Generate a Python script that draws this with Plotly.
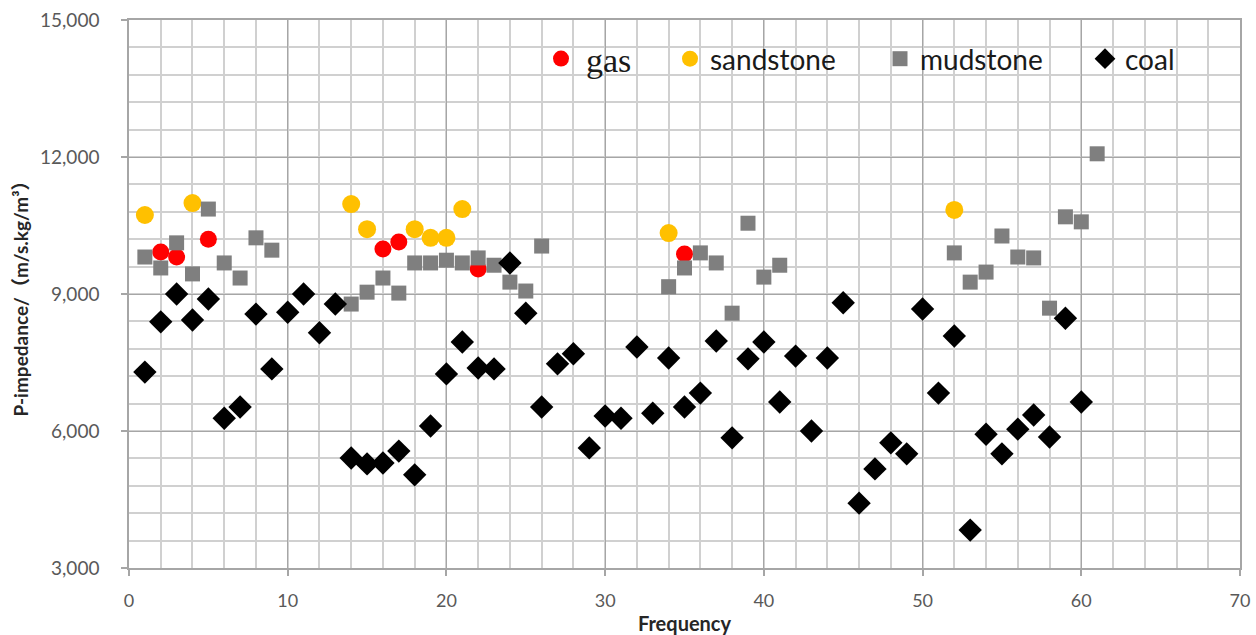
import plotly.graph_objects as go

# ---------------- data ----------------
gas_x = [2, 3, 5, 16, 17, 22, 35]
gas_y = [9920, 9810, 10200, 9985, 10140, 9550, 9875]

sand_x = [1, 4, 14, 15, 18, 19, 20, 21, 34, 52]
sand_y = [10730, 10990, 10970, 10420, 10420, 10230, 10230, 10860, 10335, 10840]

mud_x = [1, 2, 3, 4, 5, 6, 7, 8, 9,
         14, 15, 16, 17, 18, 19, 20, 21, 22, 23, 24, 25, 26,
         34, 35, 36, 37, 38, 39, 40, 41,
         52, 53, 54, 55, 56, 57, 58, 59, 60, 61]
mud_y = [9810, 9570, 10120, 9440, 10860, 9680, 9350, 10230, 9960,
         8780, 9040, 9350, 9020, 9680, 9680, 9740, 9680, 9790, 9630, 9260, 9065, 10050,
         9160, 9570, 9900, 9680, 8580, 10550, 9370, 9630,
         9900, 9260, 9480, 10270, 9810, 9790, 8690, 10690, 10580, 12070]

coal_x = list(range(1, 61))
coal_y = [7290, 8390, 9000, 8430, 8890, 6280, 6525, 8560, 7360, 8600,
          9000, 8150, 8780, 5410, 5280, 5300, 5560, 5040, 6110, 7250,
          7950, 7380, 7360, 9680, 8580, 6525, 7470, 7690, 5630, 6330,
          6280, 7840, 6390, 7600, 6525, 6830, 7970, 5850, 7580, 7950,
          6635, 7640, 6000, 7600, 8810, 4420, 5170, 5740, 5500, 8670,
          6830, 8080, 3830, 5930, 5500, 6040, 6350, 5870, 8470, 6635]

x_ticks = [0, 10, 20, 30, 40, 50, 60, 70]
y_ticks = [3000, 6000, 9000, 12000, 15000]

# ---------------- figure ----------------
W, H = 1256, 635
L, R, T, B = 129, 16, 20, 67
pw = W - L - R
ph = H - T - B

SANS = "Lato, 'Noto Sans CJK SC', sans-serif"

fig = go.Figure()
fig.add_trace(go.Scatter(x=gas_x, y=gas_y, mode="markers", name="gas",
                         marker=dict(symbol="circle", size=17, color="#FF0000"),
                         legend="legend"))
fig.add_trace(go.Scatter(x=sand_x, y=sand_y, mode="markers", name="sandstone",
                         marker=dict(symbol="circle", size=18, color="#FFC000"),
                         legend="legend2"))
fig.add_trace(go.Scatter(x=mud_x, y=mud_y, mode="markers", name="mudstone",
                         marker=dict(symbol="square", size=15, color="#7F7F7F"),
                         legend="legend3"))
fig.add_trace(go.Scatter(x=coal_x, y=coal_y, mode="markers", name="coal",
                         marker=dict(symbol="diamond", size=18, color="#000000"),
                         legend="legend4"))


def leg(marker_px, font, itemwidth=30):
    # position a legend so its symbol centre lands at marker_px
    return dict(x=(marker_px - 20 - L) / pw, xanchor="left",
                y=(H - B - 59) / ph, yanchor="middle",
                bgcolor="rgba(0,0,0,0)", borderwidth=0,
                font=font, itemsizing="trace", itemwidth=itemwidth)


legend_font = dict(family=SANS, size=28, color="#1a1a1a")
fig.update_layout(
    width=W, height=H,
    margin=dict(l=L, r=R, t=T, b=B, autoexpand=False),
    paper_bgcolor="white", plot_bgcolor="white",
    font=dict(family=SANS, color="#595959", size=18),
    showlegend=True,
    legend=leg(556, dict(family="'Liberation Serif', serif", size=34, color="#1a1a1a"), itemwidth=40),
    legend2=leg(690, legend_font),
    legend3=leg(900, legend_font),
    legend4=leg(1105, legend_font),
    xaxis=dict(
        range=[0, 70], tickvals=x_ticks, ticktext=[str(v) for v in x_ticks],
        showgrid=True, gridcolor="#A6A6A6", gridwidth=1,
        minor=dict(dtick=2, tick0=0, showgrid=True, gridcolor="#D0D0D0", gridwidth=1.5),
        showline=True, linecolor="#A6A6A6", linewidth=1.5, mirror=True,
        ticks="outside", ticklen=6, tickcolor="#A6A6A6", tickwidth=1.5,
        ticklabelstandoff=10, automargin=False,
        tickfont=dict(family=SANS, size=18, color="#595959"),
        zeroline=False,
        title=dict(text="<b>Frequency</b>", standoff=8,
                   font=dict(family=SANS, size=20, color="#262626")),
    ),
    yaxis=dict(
        range=[3000, 15000], tickvals=y_ticks, tickformat=",",
        showgrid=True, gridcolor="#A6A6A6", gridwidth=1,
        minor=dict(dtick=600, tick0=3000, showgrid=True, gridcolor="#D0D0D0", gridwidth=1.5),
        showline=True, linecolor="#A6A6A6", linewidth=1.5, mirror=True,
        ticks="outside", ticklen=6, tickcolor="#A6A6A6", tickwidth=1.5,
        ticklabelstandoff=18, automargin=False,
        tickfont=dict(family=SANS, size=19, color="#595959"),
        zeroline=False,
        title=dict(text="<b>P-impedance/（m/s.kg/m³）</b>", standoff=6,
                   font=dict(family=SANS, size=19, color="#262626")),
    ),
)

fig.write_html("out.html")
